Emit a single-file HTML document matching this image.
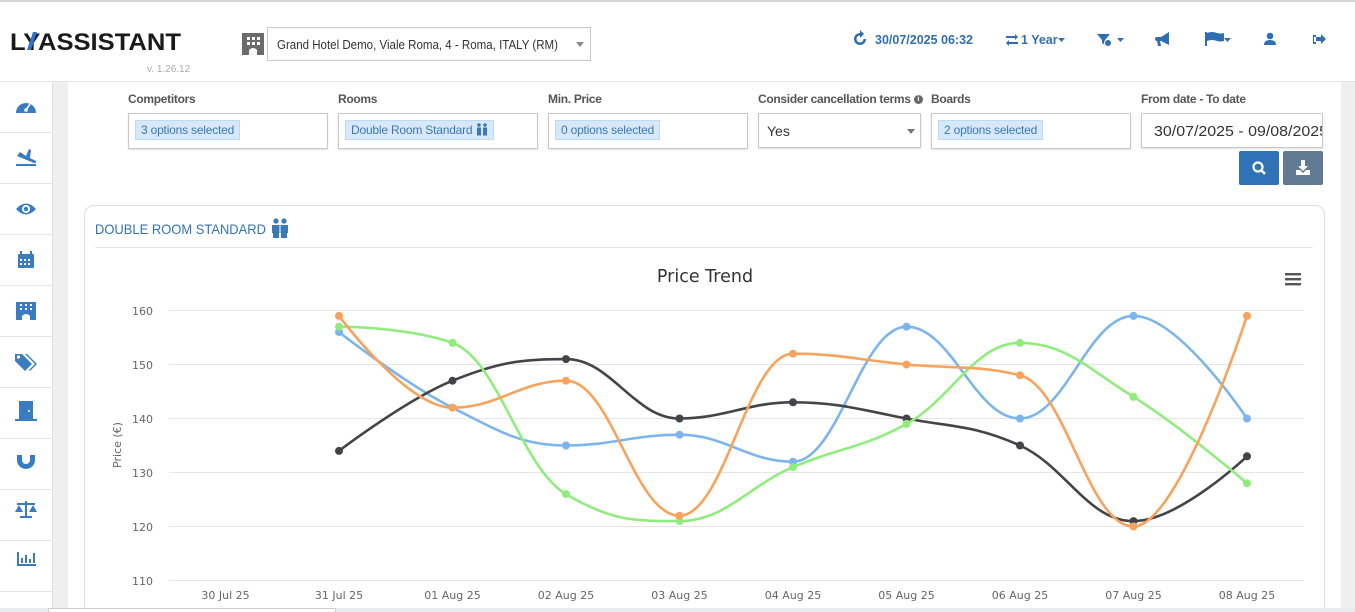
<!DOCTYPE html>
<html><head><meta charset="utf-8">
<style>
*{box-sizing:border-box;margin:0;padding:0}
html,body{width:1355px;height:612px;overflow:hidden;background:#fff;font-family:"Liberation Sans",Arial,sans-serif;position:relative}
.abs{position:absolute}
.lbl{position:absolute;top:92px;font-size:12px;font-weight:bold;color:#555;letter-spacing:-0.3px;white-space:nowrap}
.box{position:absolute;top:113px;height:36px;border:1px solid #c8c8c8;background:#fff;box-shadow:0 1px 2px rgba(0,0,0,.12)}
.chip{position:absolute;left:6px;top:6px;height:20px;line-height:18px;padding:0 5px;background:#d7e9f9;border:1px solid #bcdaf3;color:#3a78b8;font-size:12px;white-space:nowrap;letter-spacing:-0.2px}
.sep{position:absolute;left:0;width:52px;height:1px;background:#e4e4e4}
.strip{background:#efefef}
</style></head><body>
<!-- top border -->
<div class="abs" style="left:0;top:0;width:1355px;height:2px;background:#d5d5d5"></div>
<!-- header bottom border -->
<div class="abs" style="left:0;top:81px;width:1355px;height:1px;background:#e3e3e3"></div>

<!-- logo -->
<svg class="abs" style="left:0;top:20px" width="200" height="55">
  <text x="10" y="30" textLength="171" lengthAdjust="spacingAndGlyphs" font-family="Liberation Sans" font-weight="bold" font-size="24" fill="#1a1a1a">LYASSISTANT</text>
  <polygon points="33,12 37,12 31,30 27,30" fill="#2f6fd6"/>
  <text x="147" y="52" font-family="Liberation Sans" font-size="10" fill="#aaa">v. 1.26.12</text>
</svg>

<!-- hotel icon -->
<svg class="abs" style="left:242px;top:33px" width="22" height="22" viewBox="0 0 22 22">
  <rect x="0" y="0" width="22" height="22" fill="#6b6b6b"/>
  <rect x="5" y="4" width="3" height="3" fill="#fff"/><rect x="10" y="4" width="3" height="3" fill="#fff"/><rect x="15" y="4" width="3" height="3" fill="#fff"/>
  <rect x="5" y="9" width="3" height="3" fill="#fff"/><rect x="10" y="9" width="3" height="3" fill="#fff"/><rect x="15" y="9" width="3" height="3" fill="#fff"/>
  <path d="M7 22 V17 Q11 13 15 17 V22Z" fill="#fff"/>
</svg>
<!-- hotel select -->
<div class="abs" style="left:267px;top:27px;width:324px;height:34px;border:1px solid #c8c8c8;background:#fff">
  <svg class="abs" style="left:0;top:0" width="300" height="32"><text x="9" y="21" textLength="281" lengthAdjust="spacingAndGlyphs" font-family="Liberation Sans" font-size="13" fill="#333">Grand Hotel Demo, Viale Roma, 4 - Roma, ITALY (RM)</text></svg>
  <div class="abs" style="left:308px;top:14px;width:0;height:0;border-left:4px solid transparent;border-right:4px solid transparent;border-top:5px solid #888"></div>
</div>

<!-- right nav -->
<svg class="abs" style="left:850px;top:25px" width="505" height="30">
  <g fill="#2f6eb5">
    <path d="M10 8 a6 6 0 1 0 6 6 h-2.5 a3.5 3.5 0 1 1 -3.5 -3.5 v2.5 l4 -4 -4 -4z"/>
    <text x="25" y="19" font-family="Liberation Sans" font-weight="bold" font-size="12.5" textLength="98" lengthAdjust="spacingAndGlyphs">30/07/2025 06:32</text>
    <path d="M156 11 h9 v-2 l3 3 -3 3 v-2 h-9z M168 17 h-9 v-2 l-3 3 3 3 v-2 h9z"/>
    <text x="171" y="19" font-family="Liberation Sans" font-weight="bold" font-size="12.5">1 Year</text>
    <path d="M208 13 h7 l-3.5 4z"/>
    <path d="M247 9 h13 l-5 6 v5 l-3 -2 v-3z"/><circle cx="258" cy="18" r="3.5" fill="#2f6eb5" stroke="#fff" stroke-width="1"/>
    <path d="M267 13 h7 l-3.5 4z"/>
    <path d="M308 12 h3 l8 -5 v13 l-8 -4 h-1 l1 5 h-3 l-1 -5 h0 a2 2 0 0 1 0 -4z"/>
    <path d="M355 7 h2 v14 h-2z M357 8 q5 -2 10 0 q4 1 7 0 v8 q-3 1 -7 0 q-5 -2 -10 0z"/>
    <path d="M374 13 h7 l-3.5 4z"/>
    <circle cx="420" cy="11" r="3.3"/><path d="M414 20 q0 -5 6 -5 q6 0 6 5z"/>
    <path d="M463 10 h3 v2 h-2 v5 h2 v2 h-3z M466 12 h5 v-3 l5 5 -5 5 v-3 h-5z"/>
  </g>
</svg>

<!-- sidebar -->
<div class="abs" style="left:52px;top:82px;width:1px;height:527px;background:#e0e0e0"></div>
<div class="abs strip" style="left:53px;top:82px;width:15px;height:527px"></div>
<div class="abs strip" style="left:1341px;top:82px;width:14px;height:527px"></div>
<div class="sep" style="top:132px"></div><div class="sep" style="top:183px"></div><div class="sep" style="top:234px"></div>
<div class="sep" style="top:285px"></div><div class="sep" style="top:336px"></div><div class="sep" style="top:387px"></div>
<div class="sep" style="top:438px"></div><div class="sep" style="top:489px"></div><div class="sep" style="top:540px"></div>
<div class="sep" style="top:591px"></div>
<svg class="abs" style="left:0;top:82px" width="52" height="527">
  <g fill="#3a7cc2">
    <path d="M16 31 a10 10 0 1 1 20 0z"/><circle cx="26" cy="28" r="1.8" fill="#fff"/><path d="M26 28 l4 -6" stroke="#fff" stroke-width="1.6"/>
    <path d="M17 74 l3 -4 l6 4 l3 -7 l2 1 l-1 8 l6 3 q1 2 -2 2 z"/><rect x="16" y="82" width="20" height="2"/>
    <path d="M16 127 q10 -11 20 0 q-10 11 -20 0z"/><circle cx="26" cy="127" r="4" fill="#fff"/><circle cx="26" cy="127" r="2.2"/>
    <rect x="18" y="172" width="16" height="14" rx="1"/><rect x="20" y="169" width="2" height="4"/><rect x="30" y="169" width="2" height="4"/>
    <g fill="#fff"><rect x="20" y="177" width="2" height="2"/><rect x="24" y="177" width="2" height="2"/><rect x="28" y="177" width="2" height="2"/><rect x="20" y="181" width="2" height="2"/><rect x="24" y="181" width="2" height="2"/><rect x="28" y="181" width="2" height="2"/></g>
    <rect x="16" y="220" width="20" height="18"/><g fill="#fff"><rect x="20" y="222" width="2" height="2"/><rect x="25" y="222" width="2" height="2"/><rect x="30" y="222" width="2" height="2"/><rect x="20" y="226" width="2" height="2"/><rect x="25" y="226" width="2" height="2"/><rect x="30" y="226" width="2" height="2"/><path d="M22 238 v-4 q4 -4 8 0 v4z"/></g>
    <path d="M15 279 v-7 h7 l10 10 -7 7z"/><circle cx="18.5" cy="275" r="1.6" fill="#fff"/><path d="M25 272 h2 l10 10 -7 7 -1 -1 6 -6z"/>
    <rect x="19" y="319" width="14" height="18"/><rect x="15" y="337" width="22" height="2"/><circle cx="29" cy="329" r="1" fill="#fff"/>
    <path d="M17 373 h5 v5 a4 4 0 0 0 8 0 v-5 h5 v5 a9 9 0 0 1 -18 0z"/>
    <rect x="25" y="419" width="2" height="16"/><rect x="17" y="421" width="18" height="2"/><rect x="20" y="434" width="12" height="2"/>
    <path d="M15 430 l4 -7 4 7z M29 430 l4 -7 4 7z"/>
    <rect x="17" y="470" width="2" height="14"/><rect x="17" y="482" width="19" height="2"/><rect x="21" y="476" width="2" height="5"/><rect x="25" y="473" width="2" height="8"/><rect x="29" y="477" width="2" height="4"/><rect x="33" y="471" width="2" height="10"/>
  </g>
</svg>

<!-- filter labels -->
<div class="lbl" style="left:128px">Competitors</div>
<div class="lbl" style="left:338px">Rooms</div>
<div class="lbl" style="left:548px">Min. Price</div>
<div class="lbl" style="left:758px">Consider cancellation terms <span style="display:inline-block;width:9px;height:9px;border-radius:50%;background:#666;color:#fff;font-size:7px;line-height:9px;text-align:center;vertical-align:2px">i</span></div>
<div class="lbl" style="left:931px">Boards</div>
<div class="lbl" style="left:1141px">From date - To date</div>

<div class="box" style="left:128px;width:200px"><div class="chip">3 options selected</div></div>
<div class="box" style="left:338px;width:200px"><div class="chip">Double Room Standard <svg width="12" height="13" viewBox="0 0 12 13" style="vertical-align:-2px"><g fill="#3a78b8"><circle cx="3" cy="2" r="1.8"/><circle cx="9" cy="2" r="1.8"/><rect x="1" y="4.5" width="4" height="8"/><rect x="7" y="4.5" width="4" height="8"/></g></svg></div></div>
<div class="box" style="left:548px;width:200px"><div class="chip">0 options selected</div></div>
<div class="box" style="left:758px;width:163px;height:35px">
  <div class="abs" style="left:8px;top:9px;font-size:14px;color:#333">Yes</div>
  <div class="abs" style="left:148px;top:15px;width:0;height:0;border-left:4px solid transparent;border-right:4px solid transparent;border-top:5px solid #777"></div>
</div>
<div class="box" style="left:931px;width:200px"><div class="chip">2 options selected</div></div>
<div class="box" style="left:1141px;width:182px;height:35px;overflow:hidden">
  <svg class="abs" style="left:0;top:0" width="180" height="33"><text x="12" y="22" textLength="174" lengthAdjust="spacingAndGlyphs" font-family="Liberation Sans" font-size="14.5" fill="#333">30/07/2025 - 09/08/2025</text></svg>
</div>
<!-- buttons -->
<div class="abs" style="left:1239px;top:151px;width:40px;height:34px;background:#2f72b5;border-radius:2px"></div>
<svg class="abs" style="left:1251px;top:160px" width="16" height="16"><circle cx="7" cy="7" r="4.5" fill="none" stroke="#fff" stroke-width="2.2"/><path d="M10 10 l4 4" stroke="#fff" stroke-width="2.6"/></svg>
<div class="abs" style="left:1283px;top:151px;width:40px;height:34px;background:#5f7a92;border-radius:2px"></div>
<svg class="abs" style="left:1295px;top:159px" width="16" height="18"><g fill="#fff"><rect x="6" y="1" width="4" height="6"/><path d="M3 7 h10 l-5 5z"/><path d="M1 11 h4 l3 3 3 -3 h4 v5 h-14z"/></g></svg>

<!-- panel -->
<div class="abs" style="left:84px;top:205px;width:1241px;height:430px;border:1px solid #dcdcdc;border-radius:10px;background:#fff"></div>
<svg class="abs" style="left:90px;top:215px" width="200" height="25"><text x="5" y="19" textLength="171" lengthAdjust="spacingAndGlyphs" font-family="Liberation Sans" font-size="14" fill="#3472b3">DOUBLE ROOM STANDARD</text></svg>
<svg class="abs" style="left:271px;top:218px" width="18" height="20" viewBox="0 0 18 20"><g fill="#3a78b8"><circle cx="5" cy="3" r="2.6"/><circle cx="13" cy="3" r="2.6"/><path d="M1 7 h8 v8 h-1 v5 h-6 v-5 h-1z"/><path d="M9 7 h8 v8 h-1 v5 h-6 v-5 h-1z" /></g><rect x="8.5" y="6" width="1" height="14" fill="#fff"/></svg>
<div class="abs" style="left:95px;top:247px;width:1218px;height:1px;background:#e6e6e6"></div>

<!-- chart -->
<svg id="chart" class="abs" style="left:0;top:0" width="1355" height="612" font-family="DejaVu Sans, Verdana, sans-serif">
  <text x="705" y="282" text-anchor="middle" font-size="17.5" fill="#333">Price Trend</text>
  <g fill="#555"><rect x="1285" y="273" width="16" height="2.4"/><rect x="1285" y="278" width="16" height="2.4"/><rect x="1285" y="283" width="16" height="2.4"/></g>
  <g stroke="#e6e6e6" stroke-width="1">
    <line x1="169" x2="1304" y1="310.5" y2="310.5"/>
    <line x1="169" x2="1304" y1="364.5" y2="364.5"/>
    <line x1="169" x2="1304" y1="418.5" y2="418.5"/>
    <line x1="169" x2="1304" y1="472.5" y2="472.5"/>
    <line x1="169" x2="1304" y1="526.5" y2="526.5"/>
    <line x1="169" x2="1304" y1="580.5" y2="580.5"/>
  </g>
  <g font-size="11" fill="#666" text-anchor="end">
    <text x="153" y="315">160</text><text x="153" y="369">150</text><text x="153" y="423">140</text>
    <text x="153" y="477">130</text><text x="153" y="531">120</text><text x="153" y="585">110</text>
  </g>
  <text transform="translate(121,445) rotate(-90)" text-anchor="middle" font-size="11" fill="#666">Price (€)</text>
  <g font-size="11" fill="#666" text-anchor="middle">
    <text x="225.5" y="599">30 Jul 25</text><text x="339" y="599">31 Jul 25</text><text x="452.5" y="599">01 Aug 25</text>
    <text x="566" y="599">02 Aug 25</text><text x="679.5" y="599">03 Aug 25</text><text x="793" y="599">04 Aug 25</text>
    <text x="906.5" y="599">05 Aug 25</text><text x="1020" y="599">06 Aug 25</text><text x="1133.5" y="599">07 Aug 25</text>
    <text x="1247" y="599">08 Aug 25</text>
  </g>
  <g id="series"></g>
</svg>

<!-- bottom strip -->
<div class="abs" style="left:0;top:608px;width:1355px;height:4px;background:#e9ecec"></div>
<div class="abs" style="left:48px;top:608px;width:288px;height:4px;background:#fff;border-top:1px solid #cfcfcf;border-left:1px solid #cfcfcf;border-right:1px solid #cfcfcf"></div>

<script>
(function(){
  var data=[
    ["#7cb5ec",[156,142,135,137,132,157,140,159,140]],
    ["#434348",[134,147,151,140,143,140,135,121,133]],
    ["#90ed7d",[157,154,126,121,131,139,154,144,128]],
    ["#f7a35c",[159,142,147,122,152,150,148,120,159]]
  ];
  function X(i){return 225.5+113.5*i;}
  function Y(v){return 310.5+(160-v)*5.4;}
  var g=document.getElementById("series"),html="";
  data.forEach(function(s){
    var pts=s[1].map(function(v,k){return [X(k+1),Y(v)];});
    var sm=1.5,den=2.5,d="M "+pts[0][0]+" "+pts[0][1],prevR=null;
    for(var i=1;i<pts.length;i++){
      var px=pts[i][0],py=pts[i][1],lx=pts[i-1][0],ly=pts[i-1][1],lcx,lcy,rcx,rcy;
      if(i<pts.length-1){
        var nx=pts[i+1][0],ny=pts[i+1][1];
        lcx=(sm*px+lx)/den;lcy=(sm*py+ly)/den;rcx=(sm*px+nx)/den;rcy=(sm*py+ny)/den;
        var c=((rcy-lcy)*(rcx-px))/(rcx-lcx)+py-rcy;lcy+=c;rcy+=c;
        if(lcy>ly&&lcy>py){lcy=Math.max(ly,py);rcy=2*py-lcy;}
        else if(lcy<ly&&lcy<py){lcy=Math.min(ly,py);rcy=2*py-lcy;}
        if(rcy>ny&&rcy>py){rcy=Math.max(ny,py);lcy=2*py-rcy;}
        else if(rcy<ny&&rcy<py){rcy=Math.min(ny,py);lcy=2*py-rcy;}
      }else{lcx=px;lcy=py;}
      var r0=prevR||[lx,ly];
      d+=" C "+r0[0].toFixed(2)+" "+r0[1].toFixed(2)+" "+lcx.toFixed(2)+" "+lcy.toFixed(2)+" "+px+" "+py;
      prevR=(i<pts.length-1)?[rcx,rcy]:null;
    }
    html+='<path d="'+d+'" fill="none" stroke="'+s[0]+'" stroke-width="2.6" stroke-linejoin="round" stroke-linecap="round"/>';
    pts.forEach(function(p){html+='<circle cx="'+p[0]+'" cy="'+p[1]+'" r="4" fill="'+s[0]+'"/>';});
  });
  g.innerHTML=html;
})();
</script>
</body></html>
